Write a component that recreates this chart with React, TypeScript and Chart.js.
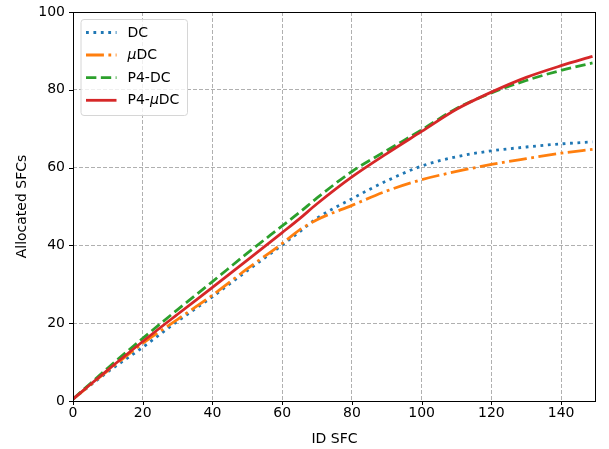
import React, { useEffect, useRef } from "react";
import { Chart, registerables } from "chart.js";

Chart.register(...registerables);

const xIds = [0, 10, 20, 30, 40, 50, 60, 65, 70, 80, 90, 100, 110, 120, 130, 140, 149];
const dcValues = [0.5, 7.5, 13.8, 20.5, 26.8, 33.5, 40.1, 43.5, 47.0, 52.0, 56.6, 60.4, 62.8, 64.3, 65.3, 66.1, 66.6];
const muDcValues = [0.5, 7.8, 14.8, 21.0, 27.2, 34.0, 40.5, 44.0, 46.6, 50.3, 54.0, 56.9, 59.0, 60.8, 62.3, 63.7, 64.7];
const p4DcValues = [0.5, 8.5, 16.1, 23.5, 30.7, 38.0, 45.0, 48.5, 52.2, 59.0, 64.4, 69.7, 75.2, 79.2, 82.4, 85.0, 86.9];
const p4MuDcValues = [0.5, 8.0, 15.3, 22.3, 29.2, 36.2, 43.3, 46.9, 50.7, 57.6, 63.6, 69.3, 75.0, 79.4, 83.2, 86.2, 88.6];

const xTicks = [0, 20, 40, 60, 80, 100, 120, 140];
const yTicks = [0, 20, 40, 60, 80, 100];

const FONT = '"DejaVu Sans", sans-serif';
const FS = 14;
const LW = 2.8;

type Series = { label: string; values: number[]; color: string; dash: number[]; order: number };

const seriesList: Series[] = [
  { label: "DC", values: dcValues, color: "#1f77b4", dash: [LW, 1.65 * LW], order: 4 },
  { label: "\u03bcDC", values: muDcValues, color: "#ff7f0e", dash: [6.4 * LW, 1.6 * LW, LW, 1.6 * LW], order: 3 },
  { label: "P4-DC", values: p4DcValues, color: "#2ca02c", dash: [3.7 * LW, 1.6 * LW], order: 2 },
  { label: "P4-\u03bcDC", values: p4MuDcValues, color: "#d62728", dash: [], order: 1 },
];

function drawMixedLabel(ctx: CanvasRenderingContext2D, text: string, x: number, y: number) {
  let cx = x;
  for (const ch of Array.from(text)) {
    ctx.font = (ch === "\u03bc" ? "italic " : "") + FS + "px " + FONT;
    ctx.fillText(ch, cx, y);
    cx += ctx.measureText(ch).width;
  }
}

const decorPlugin = {
  id: "mplDecor",
  afterDatasetsDraw(chart: any) {
    const ctx: CanvasRenderingContext2D = chart.ctx;
    const { left, right, top, bottom } = chart.chartArea;
    const xs = chart.scales.x;
    const ys = chart.scales.y;
    ctx.save();
    // frame
    ctx.strokeStyle = "#000";
    ctx.lineWidth = 1;
    ctx.setLineDash([]);
    ctx.strokeRect(Math.round(left) + 0.5, Math.round(top) + 0.5, Math.round(right - left) - 1, Math.round(bottom - top));
    // ticks
    ctx.beginPath();
    for (const t of xTicks) {
      const px = Math.round(xs.getPixelForValue(t)) + 0.5;
      ctx.moveTo(px, bottom);
      ctx.lineTo(px, bottom + 4);
    }
    for (const t of yTicks) {
      const py = Math.round(ys.getPixelForValue(t)) + 0.5;
      ctx.moveTo(left, py);
      ctx.lineTo(left - 4, py);
    }
    ctx.stroke();

    // legend
    const bx = 81, by = 19.5, bw = 106.5, bh = 96, r = 3;
    ctx.beginPath();
    ctx.moveTo(bx + r, by);
    ctx.lineTo(bx + bw - r, by);
    ctx.arcTo(bx + bw, by, bx + bw, by + r, r);
    ctx.lineTo(bx + bw, by + bh - r);
    ctx.arcTo(bx + bw, by + bh, bx + bw - r, by + bh, r);
    ctx.lineTo(bx + r, by + bh);
    ctx.arcTo(bx, by + bh, bx, by + bh - r, r);
    ctx.lineTo(bx, by + r);
    ctx.arcTo(bx, by, bx + r, by, r);
    ctx.closePath();
    ctx.fillStyle = "rgba(255,255,255,0.8)";
    ctx.fill();
    ctx.strokeStyle = "#d6d6d6";
    ctx.lineWidth = 1;
    ctx.stroke();

    const rowY = [32.5, 55, 77.7, 100.3];
    seriesList.forEach((s, i) => {
      const y = rowY[i];
      ctx.beginPath();
      ctx.setLineDash(s.dash);
      ctx.strokeStyle = s.color;
      ctx.lineWidth = LW;
      ctx.moveTo(86, y);
      ctx.lineTo(116.5, y);
      ctx.stroke();
      ctx.setLineDash([]);
      ctx.fillStyle = "#000";
      ctx.textBaseline = "middle";
      ctx.textAlign = "left";
      drawMixedLabel(ctx, s.label, 127.5, y + 0.5);
    });

    // axis titles
    ctx.fillStyle = "#000";
    ctx.font = FS + "px " + FONT;
    ctx.textAlign = "center";
    ctx.textBaseline = "middle";
    ctx.fillText("ID SFC", (left + right) / 2, 439.5);
    ctx.translate(22, (top + bottom) / 2);
    ctx.rotate(-Math.PI / 2);
    ctx.fillText("Allocated SFCs", 0, 0);
    ctx.restore();
  },
};

export default function App() {
  const canvasRef = useRef<HTMLCanvasElement | null>(null);

  useEffect(() => {
    document.body.style.margin = "0";
    const canvas = canvasRef.current;
    if (!canvas) return;
    const chart = new Chart(canvas, {
      type: "line",
      data: {
        datasets: seriesList.map((s) => ({
          label: s.label,
          data: xIds.map((x, i) => ({ x, y: s.values[i] })),
          borderColor: s.color,
          backgroundColor: s.color,
          borderWidth: LW,
          borderDash: s.dash,
          pointRadius: 0,
          fill: false,
          cubicInterpolationMode: "monotone" as const,
          order: s.order,
        })),
      },
      options: {
        responsive: false,
        animation: false,
        events: [],
        layout: { padding: { top: 12, right: 13, left: 0, bottom: 0 } },
        plugins: { legend: { display: false }, tooltip: { enabled: false }, title: { display: false } },
        scales: {
          x: {
            type: "linear",
            min: 0,
            max: 150,
            afterBuildTicks: (scale: any) => {
              scale.ticks = xTicks.map((v) => ({ value: v }));
            },
            afterFit: (scale: any) => {
              scale.height = 48;
              scale.paddingLeft = 0;
              scale.paddingRight = 0;
            },
            ticks: { font: { family: FONT, size: FS }, color: "#000", padding: 4, maxRotation: 0 },
            grid: { color: "#b0b0b0", lineWidth: 1, drawTicks: false },
            border: { display: false, dash: [4, 2] },
          },
          y: {
            type: "linear",
            min: 0,
            max: 100,
            afterBuildTicks: (scale: any) => {
              scale.ticks = yTicks.map((v) => ({ value: v }));
            },
            afterFit: (scale: any) => {
              scale.width = 73;
              scale.paddingTop = 0;
              scale.paddingBottom = 0;
            },
            ticks: { font: { family: FONT, size: FS }, color: "#000", padding: 8 },
            grid: { color: "#b0b0b0", lineWidth: 1, drawTicks: false },
            border: { display: false, dash: [4, 2] },
          },
        },
      },
      plugins: [decorPlugin],
    } as any);
    return () => chart.destroy();
  }, []);

  return (
    <div style={{ position: "fixed", left: 0, top: 0, width: 609, height: 449, background: "#fff" }}>
      <canvas ref={canvasRef} width={609} height={449} style={{ width: 609, height: 449, display: "block" }} />
    </div>
  );
}
